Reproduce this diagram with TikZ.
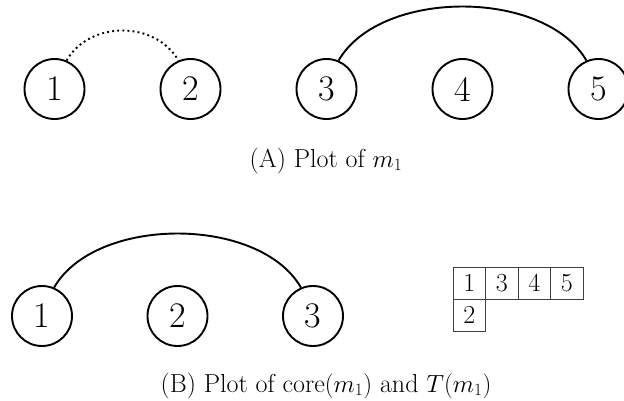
\documentclass[tikz,border=0pt]{standalone}
\begin{document}
\begin{tikzpicture}[x=1pt,y=-1pt,
  vtx/.style={circle,draw,line width=1.9pt,minimum size=60pt,inner sep=0pt,font=\fontsize{36}{40}\selectfont},
  arcline/.style={line width=1.9pt},
  dotarc/.style={line width=1.9pt,dash pattern=on 1.9pt off 3.2pt},
  cell/.style={draw=black!75,line width=1pt,minimum width=32.5pt,minimum height=32pt,inner sep=0pt,font=\fontsize{26}{30}\selectfont},
  captext/.style={anchor=base,inner sep=0pt,font=\fontsize{26}{30}\selectfont}]
\useasboundingbox (0,0) rectangle (624,400);
% top row
\node[vtx] (a1) at (54.5,89) {1};
\node[vtx] (a2) at (190.5,89) {2};
\node[vtx] (a3) at (326.5,89) {3};
\node[vtx] (a4) at (462.5,89) {4};
\node[vtx] (a5) at (598.5,89) {5};
\draw[dotarc] (a1.67) .. controls +(23,-40) and +(-23,-40) .. (a2.113);
\draw[arcline] (a3.67) .. controls +(41.5,-72) and +(-41.5,-72) .. (a5.113);
\node[captext] (capA) at (326,167) {(A) Plot of $m_1$};
% bottom row
\node[vtx] (b1) at (42,316) {1};
\node[vtx] (b2) at (177.5,316) {2};
\node[vtx] (b3) at (313,316) {3};
\draw[arcline] (b1.67) .. controls +(41.5,-72) and +(-41.5,-72) .. (b3.113);
% tableau
\node[cell] (t11) at (469.25,283) {1};
\node[cell] (t12) at (501.75,283) {3};
\node[cell] (t13) at (534.25,283) {4};
\node[cell] (t14) at (566.75,283) {5};
\node[cell] (t21) at (469.25,315) {2};
\node[captext] (capB) at (326,392) {(B) Plot of core$(m_1)$ and $T(m_1)$};
\end{tikzpicture}
\end{document}
